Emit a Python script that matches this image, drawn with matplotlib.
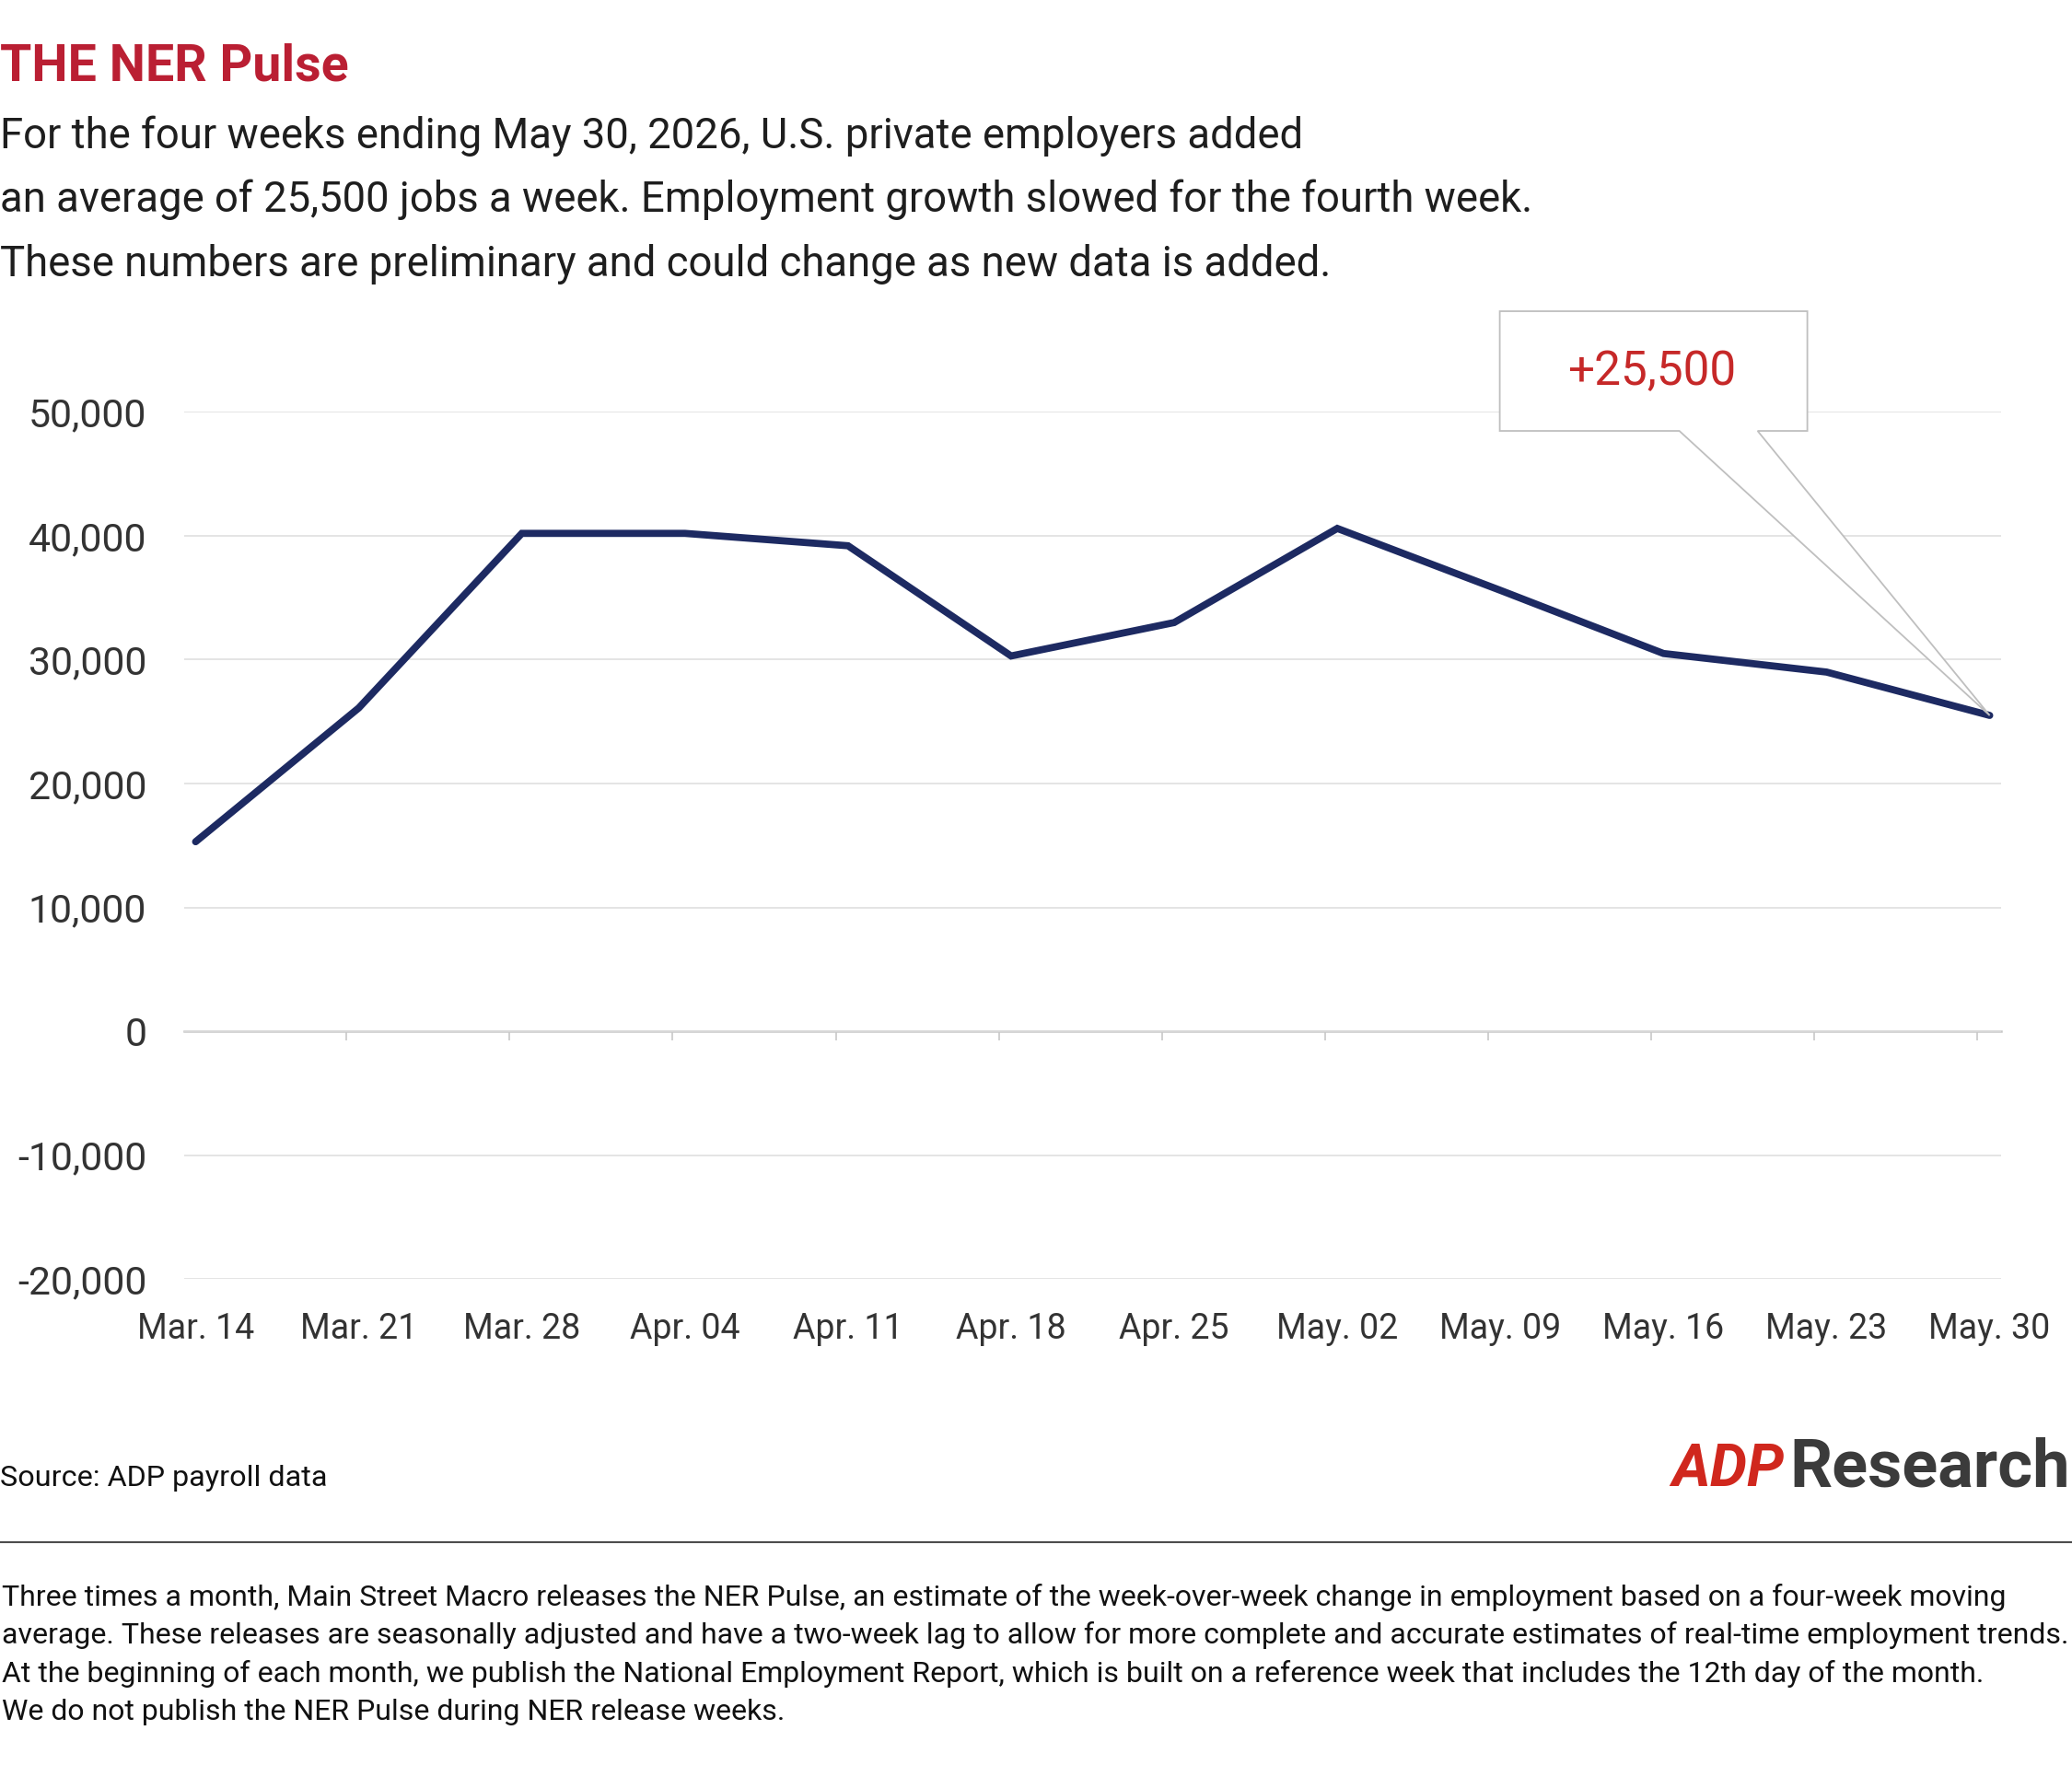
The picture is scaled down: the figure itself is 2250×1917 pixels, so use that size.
import numpy as np
import matplotlib
matplotlib.use("Agg")
import matplotlib.pyplot as plt
from matplotlib.patches import Polygon
from matplotlib.lines import Line2D
from matplotlib.ticker import FuncFormatter

# data
weeks = ["Mar. 14", "Mar. 21", "Mar. 28", "Apr. 04", "Apr. 11", "Apr. 18",
         "Apr. 25", "May. 02", "May. 09", "May. 16", "May. 23", "May. 30"]
jobs = [15300, 26100, 40200, 40200, 39200, 30300,
        33000, 40600, 35600, 30500, 29000, 25500]
y_ticks = [-20000, -10000, 0, 10000, 20000, 30000, 40000, 50000]
callout_label = "+25,500"

title = "THE NER Pulse"
subtitle = ["For the four weeks ending May 30, 2026, U.S. private employers added",
            "an average of 25,500 jobs a week. Employment growth slowed for the fourth week.",
            "These numbers are preliminary and could change as new data is added."]
source = "Source: ADP payroll data"
footnote = ["Three times a month, Main Street Macro releases the NER Pulse, an estimate of the week-over-week change in employment based on a four-week moving",
            "average. These releases are seasonally adjusted and have a two-week lag to allow for more complete and accurate estimates of real-time employment trends.",
            "At the beginning of each month, we publish the National Employment Report, which is built on a reference week that includes the 12th day of the month.",
            "We do not publish the NER Pulse during NER release weeks."]

plt.rcParams['font.family'] = ['Roboto', 'DejaVu Sans']

W, H = 2250, 1917
fig = plt.figure(figsize=(W / 100, H / 100), dpi=100)
fig.patch.set_facecolor('white')


def fx(px):
    return px / W


def fy(py):
    return 1 - py / H


ax = fig.add_axes([fx(199.5), fy(1389), fx(2173) - fx(199.5), fy(447.5) - fy(1389)])
x = np.arange(len(weeks))
ax.plot(x, jobs, color='#1d2a62', lw=5.6, solid_joinstyle='miter',
        solid_capstyle='round', zorder=3)

ax.set_xlim(-0.073, 11.07)
ax.set_ylim(-20000, 50000)
ax.set_yticks(y_ticks)
ax.yaxis.set_major_formatter(FuncFormatter(lambda v, p: f"{int(v):,}"))
ax.yaxis.grid(True, color='#dcdcdc', lw=1.1)
ax.set_axisbelow(True)
ax.tick_params(axis='y', length=0, pad=29, labelsize=30.8, labelcolor='#333333')
ax.set_xticks(x, weeks)
ax.tick_params(axis='x', length=0, pad=26, labelsize=27, labelcolor='#333333')
for s in ax.spines.values():
    s.set_visible(False)

# zero line with its tick marks
sec = ax.secondary_xaxis(2 / 7)
sec.set_xticks(x - 0.075)
sec.tick_params(length=7, width=1.2, color='#c8c8c8', labelbottom=False)
sec.spines['bottom'].set_color('#c8c8c8')
sec.spines['bottom'].set_linewidth(1.8)

# callout box pointing at the last value
tip = ax.transData.transform((x[-1], jobs[-1]))


def off(dx, dy):
    return ((tip[0] + dx) / W, (tip[1] + dy) / H)


verts = [off(-532, 309), off(-532, 439), off(-198, 439), off(-198, 309),
         off(-252, 309), off(0, 0), off(-337, 309)]
fig.add_artist(Polygon(verts, closed=True, transform=fig.transFigure,
                       facecolor='white', edgecolor='#bfbfbf', lw=1.3, zorder=5))
tx, ty = off(-367, 373)
fig.text(tx, ty, callout_label, ha='center', va='center', fontsize=37,
         color='#C62828', zorder=6)

# header
fig.text(fx(0), fy(87.5), title, fontsize=40, weight='bold', color='#BA1F33',
         ha='left', va='baseline')
for i, line in enumerate(subtitle):
    fig.text(fx(0), fy(160.5 + 69.6 * i), line, fontsize=32.8,
             color='#1e1e1e', ha='left', va='baseline')

# footer
fig.text(fx(0), fy(1614), source, fontsize=23.3, color='#111111', ha='left', va='baseline')
fig.text(fx(2248), fy(1614), "Research", fontsize=52, weight='bold', color='#3b3b3b',
         ha='right', va='baseline')
fig.text(fx(1937), fy(1614), "ADP", fontsize=46, weight='bold', style='italic',
         color='#D0271D', ha='right', va='baseline')
fig.add_artist(Line2D([0, 1], [fy(1675), fy(1675)], transform=fig.transFigure,
                      color='#4d4d4d', lw=1.5))
for i, line in enumerate(footnote):
    fig.text(fx(2), fy(1743.5 + 41.5 * i), line, fontsize=23.05, color='#111111',
             ha='left', va='baseline')

fig.savefig("out.png", dpi=100, facecolor='white')
